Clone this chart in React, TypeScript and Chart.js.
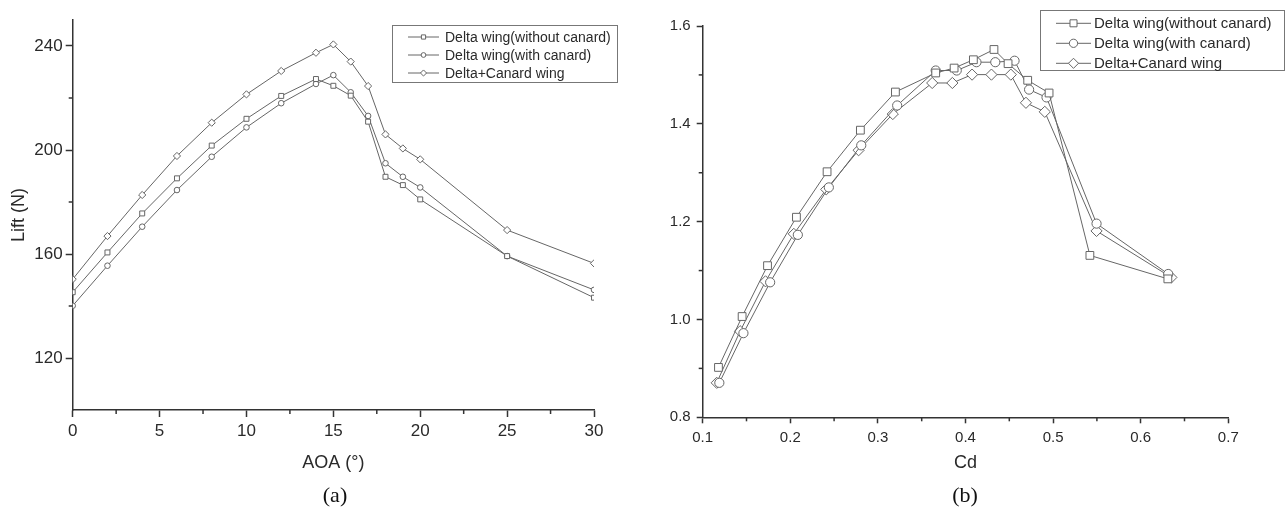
import React, { useEffect, useRef } from 'react';
import { Chart, registerables } from 'chart.js';

Chart.register(...registerables);

const FONT = "'Liberation Sans', Arial, sans-serif";
const TEXT = '#2a2a2a';
const LINE = '#666666';
const AXIS = '#333333';

// ---------- (a) Lift vs AOA ----------
const aoa = [0, 2, 4, 6, 8, 10, 12, 14, 15, 16, 17, 18, 19, 20, 25, 30];
const liftWithout = [145.3, 160.6, 175.6, 189.1, 201.7, 212.0, 220.8, 227.3, 224.7, 220.9, 210.9, 189.7, 186.5, 181.0, 159.2, 143.2];
const liftWith = [140.1, 155.5, 170.5, 184.6, 197.4, 208.7, 218.0, 225.4, 228.8, 222.2, 213.1, 194.9, 189.7, 185.6, 159.2, 146.2];
const liftDeltaCanard = [150.3, 166.9, 182.7, 197.7, 210.5, 221.4, 230.4, 237.4, 240.6, 234.0, 224.6, 206.0, 200.6, 196.4, 169.2, 156.4];
const aoaTicks = [0, 5, 10, 15, 20, 25, 30];
const aoaMinor = [2.5, 7.5, 12.5, 17.5, 22.5, 27.5];
const liftTicks = [120, 160, 200, 240];
const liftMinor = [140, 180, 220];

// ---------- (b) CL vs Cd ----------
const cdWithout = [0.118, 0.145, 0.174, 0.207, 0.242, 0.280, 0.320, 0.366, 0.387, 0.409, 0.4325, 0.4486, 0.471, 0.4954, 0.542, 0.631];
const clWithout = [0.902, 1.006, 1.110, 1.209, 1.302, 1.387, 1.465, 1.504, 1.514, 1.531, 1.552, 1.523, 1.489, 1.463, 1.131, 1.083];
const cdWith = [0.119, 0.1465, 0.177, 0.2086, 0.244, 0.281, 0.322, 0.366, 0.390, 0.4125, 0.434, 0.456, 0.4726, 0.4925, 0.5496, 0.6314];
const clWith = [0.8705, 0.972, 1.076, 1.173, 1.270, 1.356, 1.4375, 1.509, 1.509, 1.526, 1.526, 1.529, 1.470, 1.454, 1.196, 1.093];
const cdDeltaCanard = [0.116, 0.1427, 0.1717, 0.204, 0.241, 0.278, 0.317, 0.362, 0.385, 0.4075, 0.4296, 0.4517, 0.469, 0.4905, 0.5496, 0.635];
const clDeltaCanard = [0.8705, 0.976, 1.078, 1.175, 1.266, 1.346, 1.420, 1.4835, 1.4835, 1.5006, 1.5006, 1.5006, 1.443, 1.4245, 1.181, 1.086];
const cdTicks = [0.1, 0.2, 0.3, 0.4, 0.5, 0.6, 0.7];
const cdMinor = [0.15, 0.25, 0.35, 0.45, 0.55, 0.65];
const clTicks = [0.8, 1.0, 1.2, 1.4, 1.6];
const clMinor = [0.9, 1.1, 1.3, 1.5];

const seriesNames = ['Delta wing(without canard)', 'Delta wing(with canard)', 'Delta+Canard wing'];
const pointStyles = ['rect', 'circle', 'rectRot'];

function drawMarker(ctx: CanvasRenderingContext2D, style: string, x: number, y: number, r: number) {
  ctx.beginPath();
  if (style === 'rect') {
    const s = Math.SQRT1_2 * r;
    ctx.rect(x - s, y - s, 2 * s, 2 * s);
  } else if (style === 'rectRot') {
    ctx.moveTo(x, y - r);
    ctx.lineTo(x + r, y);
    ctx.lineTo(x, y + r);
    ctx.lineTo(x - r, y);
    ctx.closePath();
  } else {
    ctx.arc(x, y, r, 0, Math.PI * 2);
  }
  ctx.fillStyle = '#ffffff';
  ctx.fill();
  ctx.stroke();
}

const minorTicksPlugin = {
  id: 'minorTicks',
  afterDraw(chart: any, _args: any, opts: any) {
    const ctx = chart.ctx;
    const xs = chart.scales.x;
    const ys = chart.scales.y;
    ctx.save();
    ctx.strokeStyle = AXIS;
    ctx.lineWidth = 1.5;
    (opts.x || []).forEach((v: number) => {
      const px = xs.getPixelForValue(v);
      ctx.beginPath();
      ctx.moveTo(px, xs.top);
      ctx.lineTo(px, xs.top + opts.len);
      ctx.stroke();
    });
    (opts.y || []).forEach((v: number) => {
      const py = ys.getPixelForValue(v);
      ctx.beginPath();
      ctx.moveTo(ys.right, py);
      ctx.lineTo(ys.right - opts.len, py);
      ctx.stroke();
    });
    ctx.restore();
  },
};

const boxLegendPlugin = {
  id: 'boxLegend',
  afterDraw(chart: any, _args: any, o: any) {
    if (!o || !o.w) return;
    const ctx = chart.ctx;
    ctx.save();
    ctx.strokeStyle = '#777777';
    ctx.lineWidth = 1;
    ctx.strokeRect(o.x + 0.5, o.y + 0.5, o.w, o.h);
    chart.data.datasets.forEach((ds: any, i: number) => {
      const cy = o.y + o.firstRow + i * o.rowH;
      ctx.strokeStyle = ds.borderColor;
      ctx.lineWidth = 1;
      ctx.beginPath();
      ctx.moveTo(o.lineX0, cy);
      ctx.lineTo(o.lineX1, cy);
      ctx.stroke();
      drawMarker(ctx, ds.pointStyle, (o.lineX0 + o.lineX1) / 2, cy, ds.pointRadius * o.markerScale);
      ctx.fillStyle = TEXT;
      ctx.font = `${o.fontSize}px ${FONT}`;
      ctx.textBaseline = 'middle';
      ctx.textAlign = 'left';
      ctx.fillText(ds.label, o.textX, cy + 1);
    });
    ctx.restore();
  },
};

function makeDataset(i: number, xs: number[], ys: number[], radius: number) {
  return {
    label: seriesNames[i],
    data: xs.map((x, k) => ({ x, y: ys[k] })),
    showLine: true,
    borderColor: LINE,
    borderWidth: 1,
    pointStyle: pointStyles[i],
    pointRadius: radius,
    pointHoverRadius: radius,
    pointBackgroundColor: '#ffffff',
    pointBorderColor: LINE,
    pointBorderWidth: 1,
    tension: 0,
    fill: false,
  };
}

function axis(opts: any) {
  return {
    type: 'linear',
    position: opts.position,
    min: opts.min,
    max: opts.max,
    afterBuildTicks: (s: any) => {
      s.ticks = opts.ticks.map((v: number) => ({ value: v }));
    },
    afterFit: (s: any) => {
      if (opts.position === 'bottom') s.height = opts.size;
      else s.width = opts.size;
    },
    ticks: {
      autoSkip: false,
      maxRotation: 0,
      padding: opts.tickPad,
      color: TEXT,
      font: { family: FONT, size: opts.fontSize },
      callback: opts.fmt,
    },
    grid: {
      drawOnChartArea: false,
      drawTicks: true,
      tickLength: opts.tickLen,
      tickColor: AXIS,
      tickWidth: 1.5,
    },
    border: { display: true, color: AXIS, width: 1.5 },
    title: opts.title
      ? {
          display: true,
          text: opts.title,
          color: TEXT,
          font: { family: FONT, size: opts.titleSize },
          padding: opts.titlePad,
        }
      : { display: false },
  };
}

function configA(): any {
  return {
    type: 'scatter',
    data: {
      datasets: [
        makeDataset(0, aoa, liftWithout, 3.5),
        makeDataset(1, aoa, liftWith, 2.8),
        makeDataset(2, aoa, liftDeltaCanard, 3.6),
      ],
    },
    plugins: [minorTicksPlugin, boxLegendPlugin],
    options: {
      responsive: false,
      animation: false,
      devicePixelRatio: 1,
      layout: { padding: { left: 0, top: 20, right: 46, bottom: 0 } },
      scales: {
        x: axis({
          position: 'bottom', min: 0, max: 30, ticks: aoaTicks, size: 104, tickPad: 4, tickLen: 7,
          fontSize: 17, fmt: (v: number) => String(v), title: 'AOA (°)', titleSize: 18,
          titlePad: { top: 0, bottom: 40 },
        }),
        y: axis({
          position: 'left', min: 100, max: 250, ticks: liftTicks, size: 72.7, tickPad: 3, tickLen: 7,
          fontSize: 17, fmt: (v: number) => String(v), title: 'Lift (N)', titleSize: 18,
          titlePad: { top: 8, bottom: 0 },
        }),
      },
      plugins: {
        legend: { display: false },
        tooltip: { enabled: false },
        minorTicks: { x: aoaMinor, y: liftMinor, len: 4 },
        boxLegend: {
          x: 392, y: 25, w: 225, h: 57, firstRow: 12, rowH: 18,
          lineX0: 408, lineX1: 439, textX: 445, fontSize: 14, markerScale: 0.85,
        },
      },
    },
  };
}

function configB(): any {
  return {
    type: 'scatter',
    data: {
      datasets: [
        makeDataset(0, cdWithout, clWithout, 5.5),
        makeDataset(1, cdWith, clWith, 4.6),
        makeDataset(2, cdDeltaCanard, clDeltaCanard, 5.6),
      ],
    },
    plugins: [minorTicksPlugin, boxLegendPlugin],
    options: {
      responsive: false,
      animation: false,
      devicePixelRatio: 1,
      layout: { padding: { left: 0, top: 26, right: 58.7, bottom: 0 } },
      scales: {
        x: axis({
          position: 'bottom', min: 0.1, max: 0.7, ticks: cdTicks, size: 96.7, tickPad: 6, tickLen: 6,
          fontSize: 15, fmt: (v: number) => Number(v).toFixed(1), title: 'Cd', titleSize: 18,
          titlePad: { top: 0, bottom: 40 },
        }),
        y: axis({
          position: 'left', min: 0.8, max: 1.6, ticks: clTicks, size: 62.7, tickPad: 6, tickLen: 6,
          fontSize: 15, fmt: (v: number) => Number(v).toFixed(1),
        }),
      },
      plugins: {
        legend: { display: false },
        tooltip: { enabled: false },
        minorTicks: { x: cdMinor, y: clMinor, len: 4 },
        boxLegend: {
          x: 400, y: 10, w: 244, h: 60, firstRow: 13.3, rowH: 20,
          lineX0: 416, lineX1: 451, textX: 454, fontSize: 15, markerScale: 0.9,
        },
      },
    },
  };
}

function Panel({ make, left, width }: { make: () => any; left: number; width: number }) {
  const ref = useRef<HTMLCanvasElement>(null);
  useEffect(() => {
    const chart = new Chart(ref.current as HTMLCanvasElement, make());
    return () => chart.destroy();
  }, []);
  return (
    <canvas
      ref={ref}
      width={width}
      height={514}
      style={{ position: 'absolute', left, top: 0, width, height: 514 }}
    />
  );
}

const captionStyle: React.CSSProperties = {
  position: 'absolute',
  top: 482,
  transform: 'translateX(-50%)',
  fontFamily: "'Liberation Serif', 'Times New Roman', serif",
  fontSize: 22,
  lineHeight: '26px',
  color: '#111',
  whiteSpace: 'nowrap',
};

export default function App() {
  return (
    <div style={{ position: 'absolute', left: 0, top: 0, width: 1287, height: 514, background: '#ffffff', overflow: 'hidden' }}>
      <Panel make={configA} left={0} width={640} />
      <Panel make={configB} left={640} width={647} />
      <div style={{ ...captionStyle, left: 335 }}>(a)</div>
      <div style={{ ...captionStyle, left: 965 }}>(b)</div>
    </div>
  );
}
